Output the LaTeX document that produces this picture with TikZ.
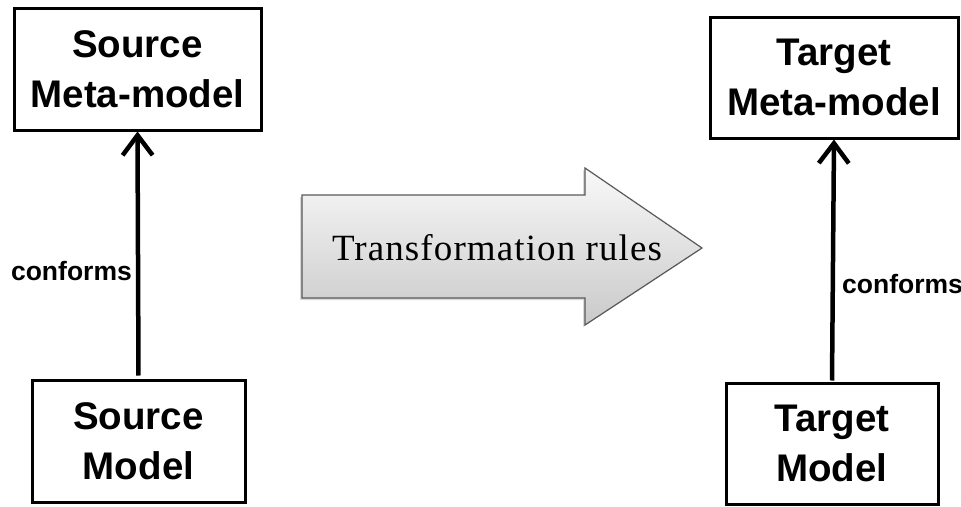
\documentclass[tikz,border=0pt]{standalone}
\usepackage{fontspec}
\setmainfont{Liberation Serif}
\setsansfont{Liberation Sans}
\usetikzlibrary{arrows.meta,shadows}

\begin{document}
\begin{tikzpicture}[x=1pt, y=-1pt, >={Straight Barb[length=20pt,width=30pt]},
		modelbox/.style={draw, line width=3pt, align=center, inner sep=0pt,
			font=\sffamily\bfseries\fontsize{38.5}{50}\selectfont},
		conftext/.style={inner sep=0pt, font=\sffamily\bfseries\fontsize{26.5}{30}\selectfont},
		conflink/.style={->, line width=4.5pt}]
		\useasboundingbox (0,0) rectangle (961,506);
		% meta-models and models
		\node[modelbox, minimum width=247pt, minimum height=122pt] (srcmeta) at (137.5,69) {Source\\Meta-model};
		\node[modelbox, minimum width=248pt, minimum height=121pt] (tgtmeta) at (834,77.5) {Target\\Meta-model};
		\node[modelbox, minimum width=213pt, minimum height=122pt] (srcmodel) at (138.5,441) {Source\\Model};
		\node[modelbox, minimum width=212pt, minimum height=121pt] (tgtmodel) at (832,443.5) {Target\\Model};
		\draw[conflink, shorten <=3pt] (srcmodel.north) -- (srcmeta.south);
		\draw[conflink, shorten <=1pt] (tgtmodel.north) -- (tgtmeta.south);
		\node[conftext, anchor=base east] (srcconf) at (132,280) {conforms};
		\node[conftext, anchor=base west] (tgtconf) at (842,293) {conforms};
		% transformation arrow
		\path[draw=gray!70!black, line width=1.2pt, top color=gray!5, bottom color=gray!42,
			drop shadow={shadow xshift=-2pt, shadow yshift=-2pt, opacity=0.3}]
			(302,195) -- (585,195) -- (585,168) -- (702,248) -- (585,325) -- (585,298) -- (302,298) -- cycle;
		\node[anchor=base, font=\fontsize{37}{40}\selectfont\addfontfeature{LetterSpace=3}] (rules) at (497,260) {Transformation rules};
	\end{tikzpicture}
\end{document}
